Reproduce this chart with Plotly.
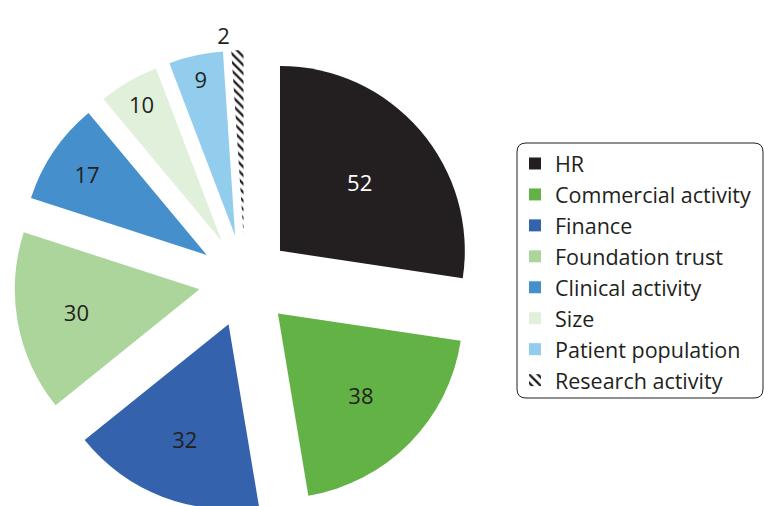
import plotly.graph_objects as go

labels = ["HR", "Commercial activity", "Finance", "Foundation trust",
          "Clinical activity", "Size", "Patient population", "Research activity"]
values = [52, 38, 32, 30, 17, 10, 9, 2]
colors = ["#231f20", "#62b246", "#3462ad", "#acd59c",
          "#458fcd", "#e1f0da", "#93cdee", "#ffffff"]
text_colors = ["#ffffff", "#231f20", "#231f20", "#231f20",
               "#231f20", "#231f20", "#231f20", "#231f20"]
patterns = ["", "", "", "", "", "", "", "\\"]
text_pos = ["inside"] * 7 + ["outside"]

W, H = 764, 512   # a few pixels taller than the window: bottom of pie is cut
pie_h = 462  # pixel height of the pie domain (bottom aligned)
cx = 245

fig = go.Figure()
fig.add_trace(go.Pie(
    labels=labels,
    values=values,
    sort=False,
    direction="clockwise",
    rotation=0,
    pull=[0.25] * len(values),
    marker=dict(colors=colors,
                line=dict(width=0),
                pattern=dict(shape=patterns, fgcolor="#231f20",
                             bgcolor="#ffffff", size=6, solidity=0.4)),
    texttemplate="%{value}",
    textposition=text_pos,
    insidetextorientation="horizontal",
    textfont=dict(family="Open Sans", size=22, color=text_colors),
    outsidetextfont=dict(family="Open Sans", size=22, color="#231f20"),
    hoverinfo="label+value",
    domain=dict(x=[(cx - 235) / W, (cx + 235) / W], y=[0, pie_h / H]),
))

# rounded legend frame
x0, x1 = 517 / W, 763 / W
y1, y0 = 1 - 143 / H, 1 - 398 / H
rx, ry = 9 / W, 9 / H
path = (f"M {x0 + rx},{y1} L {x1 - rx},{y1} Q {x1},{y1} {x1},{y1 - ry} "
        f"L {x1},{y0 + ry} Q {x1},{y0} {x1 - rx},{y0} "
        f"L {x0 + rx},{y0} Q {x0},{y0} {x0},{y0 + ry} "
        f"L {x0},{y1 - ry} Q {x0},{y1} {x0 + rx},{y1} Z")
fig.add_shape(type="path", path=path, xref="paper", yref="paper",
              line=dict(color="#231f20", width=1))

fig.update_layout(
    width=W, height=H,
    margin=dict(l=0, r=0, t=0, b=0, autoexpand=False),
    paper_bgcolor="white",
    plot_bgcolor="white",
    showlegend=True,
    legend=dict(x=515 / W, y=1 - 143 / H, xanchor="left", yanchor="top",
                font=dict(family="Open Sans", size=21.5, color="#231f20"),
                bgcolor="rgba(0,0,0,0)", tracegroupgap=0),
)

fig.write_html("out.html",
               config={"displayModeBar": False},
               post_script="document.body.style.margin='0';"
                           "document.body.style.overflow='hidden';"
                           "document.documentElement.style.overflow='hidden';")
